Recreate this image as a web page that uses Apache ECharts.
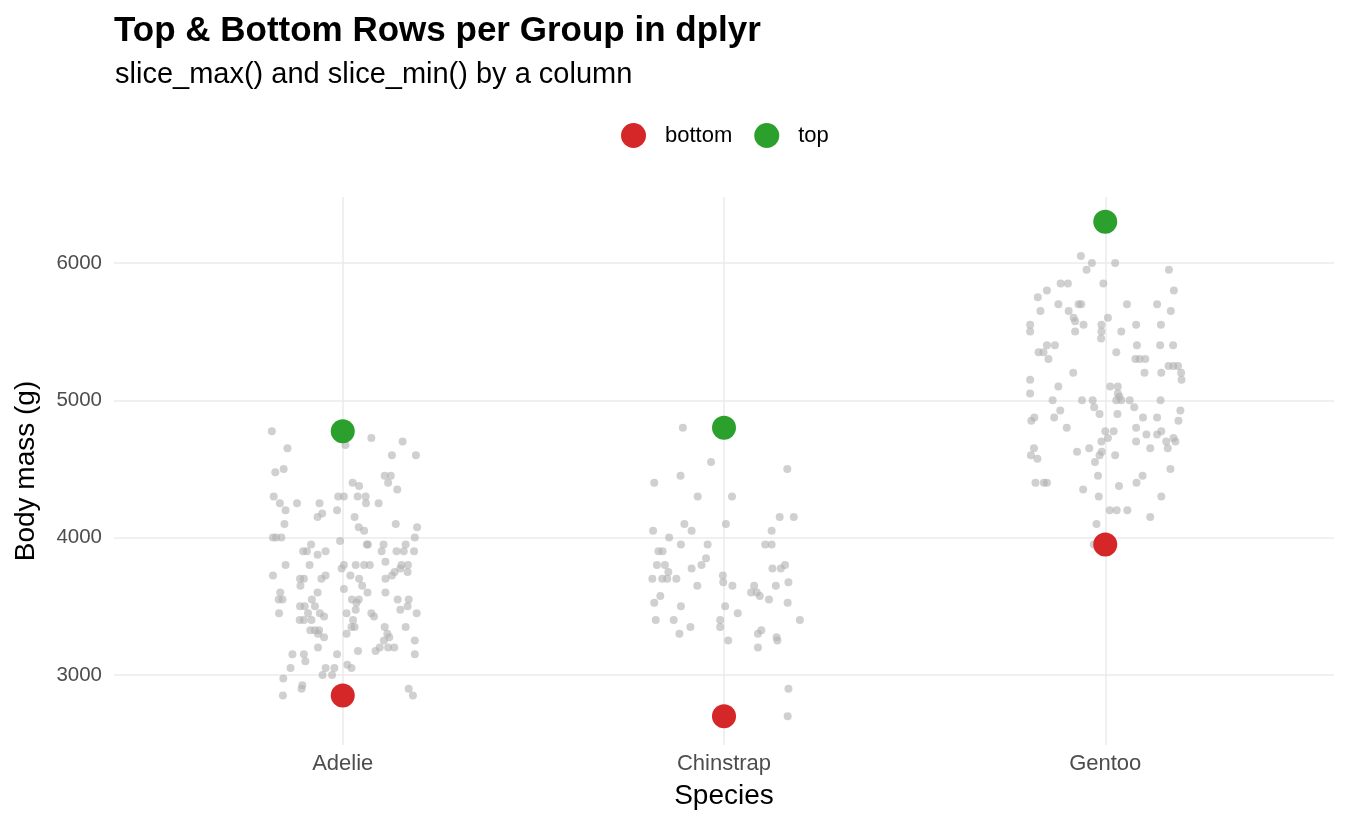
<!DOCTYPE html>
<html>
<head>
<meta charset="utf-8">
<script src="https://cdn.jsdelivr.net/npm/echarts@6/dist/echarts.min.js"></script>
<style>
html,body{margin:0;padding:0;background:#ffffff;}
#chart{width:1350px;height:825px;}
</style>
</head>
<body>
<div id="chart"></div>
<script>
// ---- data ----
const species = ['Adelie', 'Chinstrap', 'Gentoo'];

const adelieJitter = [-0.186,0.075,0.157,-0.145,0.007,0.129,0.192,-0.177,-0.155,0.110,0.126,0.119,0.026,0.043,0.143,-0.181,-0.165,-0.150,-0.120,-0.061,-0.012,0.003,0.039,0.060,0.061,0.094,-0.015,-0.066,-0.054,0.031,-0.153,0.042,0.056,0.139,0.195,-0.183,-0.175,-0.161,-0.007,-0.083,0.063,0.066,0.107,0.165,0.189,-0.104,-0.094,-0.066,-0.045,0.102,0.141,0.160,0.187,-0.150,-0.087,-0.003,0.003,0.034,0.056,0.071,0.112,0.154,0.171,-0.183,-0.112,-0.102,-0.111,-0.056,-0.045,0.020,0.043,0.051,0.112,0.129,0.136,0.151,0.170,0.003,0.065,0.112,-0.164,-0.168,-0.158,-0.066,-0.081,0.024,0.042,0.036,0.144,0.173,-0.112,-0.100,-0.073,0.151,0.170,-0.167,-0.091,-0.060,0.010,0.034,0.075,0.082,0.194,-0.049,-0.113,-0.102,-0.082,0.027,0.023,0.031,-0.085,-0.073,-0.062,-0.065,-0.049,0.010,0.110,0.117,0.122,0.165,0.108,0.189,-0.065,0.097,0.086,0.119,0.135,0.040,-0.015,-0.132,-0.102,-0.098,0.189,0.012,0.023,-0.045,-0.022,-0.137,-0.053,-0.028,-0.156,-0.106,-0.108,0.173,0.184,-0.157];
const adelieMass = [4775,4725,4700,4650,4675,4600,4600,4475,4500,4450,4450,4400,4400,4375,4350,4300,4250,4200,4250,4250,4300,4300,4300,4300,4250,4250,4200,4150,4175,4150,4100,4075,4050,4100,4075,4000,4000,4000,3975,3950,3950,3950,3950,3950,4000,3900,3900,3875,3900,3900,3900,3900,3900,3800,3800,3775,3800,3800,3800,3800,3825,3800,3800,3725,3700,3700,3650,3700,3725,3725,3700,3650,3700,3725,3750,3775,3750,3625,3600,3600,3600,3550,3550,3600,3550,3550,3550,3525,3550,3550,3500,3500,3500,3475,3500,3450,3450,3450,3450,3475,3450,3425,3450,3425,3400,3400,3400,3400,3350,3350,3325,3325,3325,3300,3275,3300,3350,3300,3275,3350,3250,3250,3200,3200,3175,3200,3200,3175,3150,3150,3150,3100,3150,3075,3050,3050,3050,3050,3000,3000,2975,2925,2900,2900,2850,2850];

const chinstrapJitter = [-0.108,-0.034,0.166,-0.183,-0.114,-0.069,0.021,0.146,0.183,-0.104,0.005,-0.085,-0.186,0.125,-0.144,-0.113,-0.043,0.108,0.125,-0.172,-0.161,-0.047,-0.176,-0.155,-0.146,-0.085,-0.059,-0.188,-0.162,-0.149,-0.125,-0.003,-0.002,0.022,-0.070,0.127,0.149,0.160,0.169,0.136,0.079,0.071,0.086,0.094,0.118,-0.167,-0.183,-0.113,0.003,0.036,0.167,-0.179,-0.132,-0.088,-0.117,-0.010,-0.010,0.011,0.089,0.098,0.138,0.140,0.089,0.199,0.169,0.167];
const chinstrapMass = [4800,4550,4500,4400,4450,4300,4300,4150,4150,4100,4100,4050,4050,4050,4000,3950,3950,3950,3950,3900,3900,3850,3800,3800,3750,3775,3800,3700,3700,3700,3700,3725,3675,3650,3650,3775,3775,3800,3675,3650,3650,3600,3600,3575,3550,3575,3525,3500,3500,3450,3525,3400,3400,3350,3300,3400,3350,3250,3300,3325,3275,3250,3200,3400,2900,2700];

const gentooJitter = [-0.064,-0.035,-0.049,0.026,0.167,-0.005,-0.117,-0.098,-0.153,-0.177,0.180,-0.123,-0.070,-0.063,0.057,0.136,-0.170,-0.096,-0.083,-0.079,-0.057,0.172,0.007,-0.197,-0.197,-0.010,-0.010,-0.011,-0.079,0.042,0.081,0.146,-0.153,-0.132,-0.175,-0.162,-0.149,0.029,0.083,0.144,0.178,0.079,0.090,0.105,0.166,0.179,0.191,0.199,0.200,-0.084,0.103,0.147,-0.197,-0.197,-0.123,0.013,0.033,0.033,0.037,-0.138,-0.061,-0.033,0.029,0.042,0.064,0.145,-0.118,-0.029,-0.015,0.032,0.076,0.197,-0.194,-0.186,-0.134,-0.101,0.099,0.136,0.192,0.081,0.000,0.022,0.007,-0.010,0.108,0.136,0.147,0.160,0.179,0.184,0.081,-0.187,-0.195,-0.178,-0.074,-0.042,-0.009,-0.015,-0.027,0.026,0.118,0.164,0.171,-0.019,0.098,0.082,-0.183,-0.161,-0.153,-0.058,0.036,-0.017,0.147,0.012,0.030,0.058,0.118,-0.023,-0.030];
const gentooMass = [6050,6000,5950,6000,5950,5850,5850,5850,5800,5750,5800,5700,5700,5700,5700,5700,5650,5650,5600,5575,5550,5650,5600,5550,5500,5550,5500,5450,5500,5500,5550,5550,5400,5400,5350,5350,5300,5350,5400,5400,5400,5300,5300,5300,5250,5250,5250,5200,5150,5200,5200,5200,5150,5050,5100,5100,5100,5050,5025,5000,5000,5000,5000,5000,5000,5000,4925,4950,4900,4900,4950,4925,4850,4875,4875,4800,4875,4875,4850,4800,4775,4775,4725,4700,4750,4750,4775,4700,4725,4700,4700,4650,4600,4575,4625,4650,4625,4600,4550,4600,4650,4650,4500,4450,4450,4400,4400,4400,4400,4350,4375,4300,4300,4200,4200,4200,4150,4100,3950];

const topMass = [4775, 4800, 6300];
const bottomMass = [2850, 2700, 3950];

// ---- build ----
const FONT = '"Liberation Sans", Arial, Helvetica, sans-serif';
function jittered(catIndex, jit, mass) {
  return jit.map((j, k) => [catIndex + 1 + j, mass[k]]);
}
const greyData = []
  .concat(jittered(0, adelieJitter, adelieMass))
  .concat(jittered(1, chinstrapJitter, chinstrapMass))
  .concat(jittered(2, gentooJitter, gentooMass));

const chart = echarts.init(document.getElementById('chart'), null, {renderer: 'canvas'});
const option = {
  backgroundColor: '#ffffff',
  animation: false,
  textStyle: {fontFamily: FONT},
  title: [
    {text: 'Top & Bottom Rows per Group in dplyr', left: 114, top: 14, padding: 0,
     textStyle: {fontSize: 35, fontWeight: 'bold', color: '#000000', fontFamily: FONT}},
    {text: 'slice_max() and slice_min() by a column', left: 115, top: 60, padding: 0,
     textStyle: {fontSize: 29, fontWeight: 'normal', color: '#000000', fontFamily: FONT}}
  ],
  legend: {
    data: ['bottom', 'top'],
    left: 621, top: 123, padding: 0,
    icon: 'circle', itemWidth: 25, itemHeight: 25, itemGap: 22,
    textStyle: {fontSize: 22, color: '#000000', fontFamily: FONT, padding: [0, 0, 0, 14]}
  },
  grid: {left: 114, right: 16, top: 197, bottom: 80},
  xAxis: {
    type: 'value', min: 0.4, max: 3.6, minInterval: 1, maxInterval: 1,
    name: 'Species', nameLocation: 'middle', nameGap: 37,
    nameTextStyle: {fontSize: 28, color: '#000000', fontFamily: FONT},
    axisLine: {show: false}, axisTick: {show: false},
    axisLabel: {
      fontSize: 22, color: '#4d4d4d', margin: 8, fontFamily: FONT,
      showMinLabel: false, showMaxLabel: false,
      formatter: v => { const i = Math.round(v) - 1; return (Math.abs(v - Math.round(v)) < 1e-6 && species[i]) ? species[i] : ''; }
    },
    splitLine: {show: true, showMinLine: false, showMaxLine: false, lineStyle: {color: '#ebebeb', width: 1.5}}
  },
  yAxis: {
    type: 'value', min: 2490, max: 6480, minInterval: 1000, maxInterval: 1000,
    name: 'Body mass (g)', nameLocation: 'middle', nameGap: 74, nameRotate: 90,
    nameTextStyle: {fontSize: 28, color: '#000000', fontFamily: FONT},
    axisLine: {show: false}, axisTick: {show: false},
    axisLabel: {fontSize: 20.5, color: '#4d4d4d', margin: 12, fontFamily: FONT,
      showMinLabel: false, showMaxLabel: false,
      formatter: v => String(Math.round(v))},
    splitLine: {show: true, showMinLine: false, showMaxLine: false, lineStyle: {color: '#ebebeb', width: 1.5}}
  },
  series: [
    {name: 'all', type: 'scatter', data: greyData, symbolSize: 8, silent: true, z: 2,
     itemStyle: {color: '#b0b0b0', opacity: 0.6}},
    {name: 'bottom', type: 'scatter', data: bottomMass.map((m, i) => [i + 1, m]), symbolSize: 24, z: 3,
     itemStyle: {color: '#d62728', opacity: 1}},
    {name: 'top', type: 'scatter', data: topMass.map((m, i) => [i + 1, m]), symbolSize: 24, z: 3,
     itemStyle: {color: '#2ca02c', opacity: 1}}
  ]
};
chart.setOption(option);
</script>
</body>
</html>
